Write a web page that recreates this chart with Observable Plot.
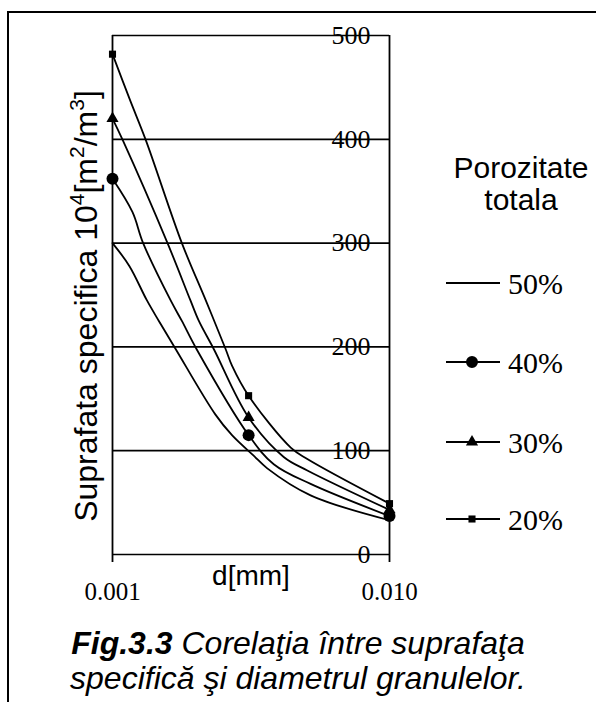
<!DOCTYPE html>
<html>
<head>
<meta charset="utf-8">
<script src="https://cdn.jsdelivr.net/npm/d3@7"></script>
<script src="https://cdn.jsdelivr.net/npm/@observablehq/plot@0.6"></script>
<style>
  html, body { margin: 0; padding: 0; background: #fff; }
  #wrap { position: relative; width: 596px; height: 702px; overflow: hidden; }
  #frame { position: absolute; left: 7px; top: 11px; width: 620px; height: 720px;
           border-left: 2px solid #000; border-top: 2px solid #000; }
  #chart { position: absolute; left: 0; top: 0; }
  #caption { position: absolute; left: 0; top: 626px; width: 596px; text-align: center;
             font-family: "Liberation Sans", Arial, sans-serif; font-style: italic;
             font-size: 32px; line-height: 35px; color: #000; }
</style>
</head>
<body>
<div id="wrap">
  <div id="frame"></div>
  <div id="chart"></div>
  <div id="caption"><b>Fig.3.3</b> Corelaţia între suprafaţa<br>specifică şi diametrul granulelor.</div>
</div>
<script>
// ---- data ----
const series = ["50%", "40%", "30%", "20%"];

const d50 = [0.001, 0.00115, 0.00133, 0.00147, 0.00169, 0.00235, 0.0027, 0.00324, 0.00362, 0.00519, 0.01];
const v50 = [300, 278, 245, 225, 198, 135, 115, 95, 83, 57, 33];

const d40 = [0.001, 0.00118, 0.00129, 0.00162, 0.00178, 0.00201, 0.0031, 0.00382, 0.00519, 0.01];
const v40 = [362, 330, 300, 245, 225, 198, 115, 87, 68, 37];

const d30 = [0.001, 0.00109, 0.00158, 0.00191, 0.00205, 0.00232, 0.0031, 0.00415, 0.00505, 0.01];
const v30 = [420, 399, 300, 245, 225, 198, 132, 94, 81, 43];

const d20 = [0.001, 0.00116, 0.00132, 0.00178, 0.00217, 0.00256, 0.0027, 0.0031, 0.0044, 0.00505, 0.01];
const v20 = [482, 437, 399, 300, 245, 198, 182, 153, 103, 92, 49];

const markerD = [0.001, 0.0031, 0.01];
const m40 = [362, 115, 37];
const m30 = [420, 132, 43];
const m20 = [482, 153, 49];

const yTicks = [0, 100, 200, 300, 400, 500];
const xTicks = [0.001, 0.01];
const xTickLabels = ["0.001", "0.010"];

// ---- build tables ----
const curveSets = [[d50, v50], [d40, v40], [d30, v30], [d20, v20]];
const curves = [];
curveSets.forEach(([ds, vs], i) => ds.forEach((d, j) => curves.push({series: series[i], d, v: vs[j]})));
const mk = (vals, s) => markerD.map((d, j) => ({series: s, d, v: vals[j]}));
const pts40 = mk(m40, "40%"), pts30 = mk(m30, "30%"), pts20 = mk(m20, "20%");

const serif = "'Liberation Serif', 'Times New Roman', serif";
const sans = "'Liberation Sans', Arial, sans-serif";

const chart = Plot.plot({
  width: 596,
  height: 620,
  marginLeft: 112,
  marginRight: 207,
  marginTop: 35,
  marginBottom: 66,
  style: {fontFamily: serif, fontSize: "24px", color: "#000", background: "transparent", overflow: "visible"},
  x: {type: "log", domain: [0.001, 0.01], axis: null},
  y: {domain: [0, 500], axis: null},
  marks: [
    Plot.ruleY(yTicks, {stroke: "#000", strokeWidth: 1.7}),
    Plot.ruleX(xTicks, {stroke: "#000", strokeWidth: 1.8}),
    Plot.axisX({ticks: xTicks, tickSize: 8, tickPadding: 20, strokeWidth: 1.8,
                tickFormat: d => xTickLabels[xTicks.indexOf(d)], label: null,
                fontSize: 25, fontFamily: serif}),
    Plot.text(yTicks, {x: 0.01, y: d => d, dx: -19, textAnchor: "end", text: d => String(d),
                       fontSize: 26, fontFamily: serif}),
    Plot.line(curves, {x: "d", y: "v", z: "series", curve: "catmull-rom", stroke: "#000", strokeWidth: 1.8}),
    Plot.dot(pts40, {x: "d", y: "v", r: 6, fill: "#000", symbol: "circle"}),
    Plot.dot(pts30, {x: "d", y: "v", r: 4.5, fill: "#000", symbol: "triangle"}),
    Plot.dot(pts20, {x: "d", y: "v", r: 4, fill: "#000", symbol: "square"}),
    Plot.text(["d[mm]"], {frameAnchor: "bottom", dy: 30, text: d => d, fontFamily: sans, fontSize: 28})
  ]
});
document.getElementById("chart").appendChild(chart);

// ---- y-axis title with superscripts ----
const svg = d3.select(chart);
const yl = svg.append("text")
  .attr("transform", "translate(97,306) rotate(-90)")
  .attr("text-anchor", "middle")
  .attr("font-family", sans)
  .attr("font-size", 32)
  .attr("fill", "#000");
const parts = [["Suprafata specifica 10", false], ["4", true], ["[m", false], ["2", true], ["/m", false], ["3", true], ["]", false]];
let prevSup = false;
parts.forEach(([t, sup]) => {
  const ts = yl.append("tspan").text(t);
  if (sup) { ts.attr("dy", -13).attr("font-size", 21); }
  else { ts.attr("dy", prevSup ? 13 : 0).attr("font-size", 32); }
  prevSup = sup;
});

// ---- legend ----
const lg = svg.append("g").attr("fill", "#000");
lg.append("text").attr("x", 521).attr("y", 178).attr("text-anchor", "middle")
  .attr("font-family", sans).attr("font-size", 30).text("Porozitate");
lg.append("text").attr("x", 521).attr("y", 210).attr("text-anchor", "middle")
  .attr("font-family", sans).attr("font-size", 30).text("totala");
const legY = [283, 362, 442, 519];
const symbols = [null, d3.symbolCircle, d3.symbolTriangle, d3.symbolSquare];
const symSize = [0, 113, 64, 50];
series.forEach((s, i) => {
  const y = legY[i];
  lg.append("line").attr("x1", 446).attr("x2", 500).attr("y1", y).attr("y2", y)
    .attr("stroke", "#000").attr("stroke-width", 1.8);
  if (symbols[i]) {
    lg.append("path").attr("d", d3.symbol(symbols[i], symSize[i])())
      .attr("transform", `translate(472,${y})`).attr("fill", "#000");
  }
  lg.append("text").attr("x", 508).attr("y", y).attr("dy", "0.35em")
    .attr("text-anchor", "start")
    .attr("font-family", serif).attr("font-size", 30).text(s);
});
</script>
</body>
</html>
